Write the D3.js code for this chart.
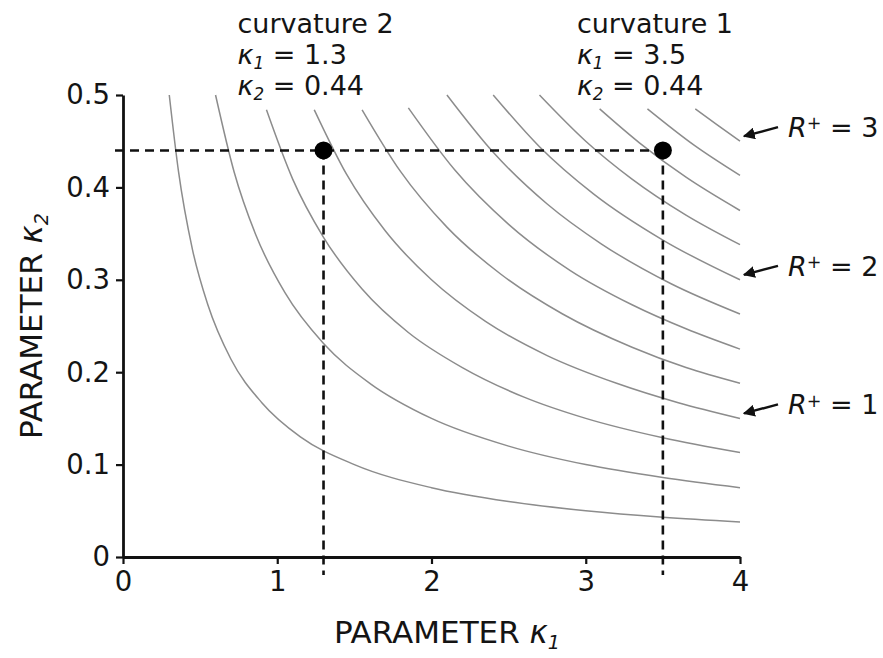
<!DOCTYPE html>
<html>
<head>
<meta charset="utf-8">
<script src="https://cdn.jsdelivr.net/npm/d3@7"></script>
<style>
  body { margin: 0; background: #fff; }
  svg { display: block; }
  text { font-family: "DejaVu Sans", Verdana, sans-serif; fill: #141414; }
</style>
</head>
<body>
<svg id="chart" width="883" height="658"></svg>
<script>
// Contour levels of R+ (one line per level)
const levels = [0.25, 0.5, 0.75, 1, 1.25, 1.5, 1.75, 2, 2.25, 2.5, 2.75, 3];

// kappa1 / kappa2 sample points along each contour line
const contourK1 = [
  [0.30, 0.36, 0.45, 0.55, 0.70, 0.90, 1.15, 1.50, 2.00, 2.50, 3.00, 3.50, 4.00],
  [0.60, 0.72, 0.86, 1.05, 1.30, 1.60, 2.00, 2.50, 3.00, 3.50, 4.00],
  [0.93, 1.10, 1.30, 1.55, 1.85, 2.20, 2.60, 3.00, 3.50, 4.00],
  [1.24, 1.45, 1.70, 2.00, 2.35, 2.75, 3.20, 3.60, 4.00],
  [1.55, 1.80, 2.10, 2.45, 2.85, 3.30, 3.65, 4.00],
  [1.85, 2.15, 2.50, 2.90, 3.30, 3.65, 4.00],
  [2.10, 2.40, 2.75, 3.10, 3.55, 4.00],
  [2.40, 2.70, 3.05, 3.50, 4.00],
  [2.70, 3.00, 3.30, 3.65, 4.00],
  [3.09, 3.35, 3.65, 4.00],
  [3.40, 3.70, 4.00],
  [3.71, 3.85, 4.00]
];
const contourK2 = [
  [0.500, 0.417, 0.333, 0.273, 0.214, 0.167, 0.130, 0.100, 0.075, 0.060, 0.050, 0.043, 0.038],
  [0.500, 0.417, 0.349, 0.286, 0.231, 0.188, 0.150, 0.120, 0.100, 0.086, 0.075],
  [0.484, 0.409, 0.346, 0.290, 0.243, 0.205, 0.173, 0.150, 0.129, 0.113],
  [0.484, 0.414, 0.353, 0.300, 0.255, 0.218, 0.188, 0.167, 0.150],
  [0.484, 0.417, 0.357, 0.306, 0.263, 0.227, 0.205, 0.188],
  [0.486, 0.419, 0.360, 0.310, 0.273, 0.247, 0.225],
  [0.500, 0.438, 0.382, 0.339, 0.296, 0.263],
  [0.500, 0.444, 0.393, 0.343, 0.300],
  [0.500, 0.450, 0.409, 0.370, 0.338],
  [0.485, 0.448, 0.411, 0.375],
  [0.485, 0.446, 0.413],
  [0.485, 0.468, 0.450]
];

// Levels that carry an "R+ = n" callout
const labelledLevels = [1, 2, 3];

// Marked curvature points
const curvatureNames = ["curvature 1", "curvature 2"];
const curvatureK1 = [3.5, 1.3];
const curvatureK2 = [0.44, 0.44];

const xTicks = [0, 1, 2, 3, 4];
const yTicks = [0, 0.1, 0.2, 0.3, 0.4, 0.5];

const svg = d3.select("#chart");
const x = d3.scaleLinear().domain([0, 4]).range([123, 740]);
const y = d3.scaleLinear().domain([0, 0.5]).range([557, 95]);

// Contour lines
const line = d3.line()
  .x(d => x(d[0]))
  .y(d => y(d[1]))
  .curve(d3.curveMonotoneX);

svg.append("g")
  .selectAll("path")
  .data(levels.map((lv, i) => contourK1[i].map((k, j) => [k, contourK2[i][j]])))
  .join("path")
  .attr("d", line)
  .attr("fill", "none")
  .attr("stroke", "#8c8c8c")
  .attr("stroke-width", 1.5);

// Dashed guides to the marked points
const guides = svg.append("g")
  .attr("stroke", "#111")
  .attr("stroke-width", 2.6)
  .attr("stroke-dasharray", "9,6")
  .attr("fill", "none");

guides.append("line")
  .attr("x1", x(0) - 8).attr("x2", x(d3.max(curvatureK1)))
  .attr("y1", y(curvatureK2[0])).attr("y2", y(curvatureK2[0]));

guides.selectAll("line.v")
  .data(curvatureK1)
  .join("line")
  .attr("class", "v")
  .attr("x1", d => x(d)).attr("x2", d => x(d))
  .attr("y1", (d, i) => y(curvatureK2[i]))
  .attr("y2", y(0) + 18);

// Axes
const fmtY = d => d === 0 ? "0" : d3.format(".1f")(d);
const xAxis = svg.append("g")
  .attr("transform", `translate(0,${y(0)})`)
  .call(d3.axisBottom(x).tickValues(xTicks).tickFormat(d3.format("d"))
    .tickSize(7).tickSizeOuter(0).tickPadding(7));
const yAxis = svg.append("g")
  .attr("transform", `translate(${x(0)},0)`)
  .call(d3.axisLeft(y).tickValues(yTicks).tickFormat(fmtY)
    .tickSize(7).tickSizeOuter(0).tickPadding(6));

[xAxis, yAxis].forEach(g => {
  g.select(".domain").attr("stroke", "#111").attr("stroke-width", 2.8);
  g.selectAll(".tick line").attr("stroke", "#111").attr("stroke-width", 2.2);
  g.selectAll(".tick text")
    .attr("font-family", "DejaVu Sans, Verdana, sans-serif")
    .attr("font-size", 27.5)
    .attr("fill", "#141414");
});

// Marked points
svg.append("g")
  .selectAll("circle")
  .data(curvatureK1)
  .join("circle")
  .attr("cx", d => x(d))
  .attr("cy", (d, i) => y(curvatureK2[i]))
  .attr("r", 9)
  .attr("fill", "#000");

// Helper for "κn = value" text with an italic subscript
function kappaLine(sel, sub, value) {
  sel.append("tspan").attr("font-style", "italic").text("κ");
  sel.append("tspan").attr("font-style", "italic").attr("font-size", "62%")
    .attr("dy", "0.3em").text(sub);
  sel.append("tspan").attr("dy", "-0.19em").text(" = " + value);
}

// Curvature annotations above the plot
curvatureNames.forEach((name, i) => {
  const g = svg.append("g")
    .attr("transform", `translate(${x(curvatureK1[i]) - 86},0)`)
    .attr("font-size", 27);
  g.append("text").attr("y", 33).text(name);
  kappaLine(g.append("text").attr("y", 64), "1", curvatureK1[i]);
  kappaLine(g.append("text").attr("y", 95), "2", curvatureK2[i]);
});

// R+ callouts with arrows
svg.append("defs").append("marker")
  .attr("id", "arrowHead")
  .attr("viewBox", "0 0 10 10")
  .attr("refX", 9).attr("refY", 5)
  .attr("markerWidth", 5).attr("markerHeight", 5)
  .attr("markerUnits", "strokeWidth")
  .attr("orient", "auto")
  .append("path")
  .attr("d", "M0,0 L10,5 L0,10 z")
  .attr("fill", "#111");

labelledLevels.forEach(lv => {
  const i = levels.indexOf(lv);
  const pts = contourK2[i];
  const yEnd = y(pts[pts.length - 1]);
  svg.append("line")
    .attr("x1", 778).attr("y1", yEnd - 14)
    .attr("x2", 744).attr("y2", yEnd - 5)
    .attr("stroke", "#111").attr("stroke-width", 2.4)
    .attr("marker-end", "url(#arrowHead)");
  const t = svg.append("text")
    .attr("x", 788).attr("y", yEnd - 4)
    .attr("font-size", 27);
  t.append("tspan").attr("font-style", "italic").text("R");
  t.append("tspan").attr("font-size", "65%").attr("dy", "-0.45em").text("+");
  t.append("tspan").attr("dy", "0.29em").text(" = " + lv);
});

// Axis titles
const xt = svg.append("text")
  .attr("x", 447).attr("y", 643)
  .attr("text-anchor", "middle")
  .attr("font-size", 31);
xt.append("tspan").text("PARAMETER ");
xt.append("tspan").attr("font-style", "italic").text("κ");
xt.append("tspan").attr("font-style", "italic").attr("font-size", "62%").attr("dy", "0.3em").text("1");

const yt = svg.append("text")
  .attr("transform", "translate(42,326) rotate(-90)")
  .attr("text-anchor", "middle")
  .attr("font-size", 31);
yt.append("tspan").text("PARAMETER ");
yt.append("tspan").attr("font-style", "italic").text("κ");
yt.append("tspan").attr("font-style", "italic").attr("font-size", "62%").attr("dy", "0.3em").text("2");
</script>
</body>
</html>
